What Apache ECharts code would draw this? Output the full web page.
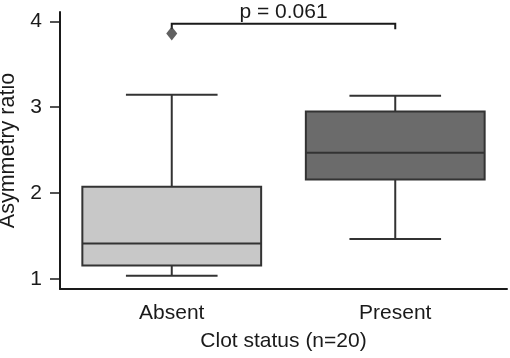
<!DOCTYPE html>
<html>
<head>
<meta charset="utf-8">
<script src="https://cdn.jsdelivr.net/npm/echarts@6/dist/echarts.min.js"></script>
<style>
  html, body { margin: 0; padding: 0; background: #fff; }
  #chart { width: 510px; height: 358px; }
</style>
</head>
<body>
<div id="chart"></div>
<script>
const categories = ['Absent', 'Present']
const whiskerLow = [1.035, 1.463]
const q1 = [1.155, 2.158]
const median = [1.41, 2.47]
const q3 = [2.073, 2.95]
const whiskerHigh = [3.145, 3.134]
const outliers = [[0, 3.86]]
const boxColors = ['#c8c8c8', '#6b6b6b']
const yTicks = [1, 2, 3, 4]
const pLabel = 'p = 0.061'
const bracket = [[0, 1, 3.91, 3.973]]

const font = 'Liberation Sans, Arial, Helvetica, sans-serif'
const ink = '#1a1a1a'

const chart = echarts.init(document.getElementById('chart'))

function renderBox(params, api) {
  const i = api.value(0)
  const band = api.size([1, 0])[0]
  const cx = api.coord([i, 0])[0]
  const yLo = api.coord([i, api.value(1)])[1]
  const yQ1 = api.coord([i, api.value(2)])[1]
  const yMed = api.coord([i, api.value(3)])[1]
  const yQ3 = api.coord([i, api.value(4)])[1]
  const yHi = api.coord([i, api.value(5)])[1]
  const bw = band * 0.8
  const cw = band * 0.41
  const line = { stroke: '#333', lineWidth: 2 }
  return {
    type: 'group',
    children: [
      { type: 'line', shape: { x1: cx, y1: yQ3, x2: cx, y2: yHi }, style: line },
      { type: 'line', shape: { x1: cx, y1: yQ1, x2: cx, y2: yLo }, style: line },
      { type: 'line', shape: { x1: cx - cw / 2, y1: yHi, x2: cx + cw / 2, y2: yHi }, style: line },
      { type: 'line', shape: { x1: cx - cw / 2, y1: yLo, x2: cx + cw / 2, y2: yLo }, style: line },
      {
        type: 'rect',
        shape: { x: cx - bw / 2, y: yQ3, width: bw, height: yQ1 - yQ3 },
        style: { fill: boxColors[i], stroke: '#333', lineWidth: 2 },
      },
      { type: 'line', shape: { x1: cx - bw / 2, y1: yMed, x2: cx + bw / 2, y2: yMed }, style: line },
    ],
  }
}

function renderBracket(params, api) {
  const a = api.coord([api.value(0), api.value(3)])
  const b = api.coord([api.value(1), api.value(3)])
  const yEnd = api.coord([api.value(0), api.value(2)])[1]
  return {
    type: 'group',
    children: [
      {
        type: 'polyline',
        shape: { points: [[a[0], yEnd], a, b, [b[0], yEnd]] },
        style: { stroke: ink, lineWidth: 2, fill: null },
      },
      {
        type: 'text',
        style: {
          text: pLabel, x: (a[0] + b[0]) / 2, y: a[1] - 1,
          align: 'center', verticalAlign: 'bottom',
          fontSize: 21, fontFamily: font, fill: ink,
        },
      },
    ],
  }
}

chart.setOption({
  backgroundColor: '#fff',
  animation: false,
  grid: { left: 60, right: 3, top: 12, bottom: 69, containLabel: false, outerBoundsMode: 'none' },
  xAxis: {
    type: 'category',
    data: categories,
    name: 'Clot status (n=20)',
    nameLocation: 'middle',
    nameGap: 42,
    nameTextStyle: { fontSize: 21, fontFamily: font, color: ink },
    axisLine: { lineStyle: { color: ink, width: 2 } },
    axisTick: { alignWithLabel: true, length: 10, lineStyle: { color: ink, width: 1.5 } },
    axisLabel: { fontSize: 21, fontFamily: font, color: ink, margin: 14 },
  },
  yAxis: {
    type: 'value',
    min: 0.88,
    max: 4.11,
    name: 'Asymmetry ratio',
    nameLocation: 'middle',
    nameGap: 40,
    nameTextStyle: { fontSize: 21.5, fontFamily: font, color: ink },
    splitLine: { show: false },
    axisLine: { show: true, lineStyle: { color: ink, width: 2 } },
    axisTick: { show: true, length: 10, customValues: yTicks, lineStyle: { color: ink, width: 1.5 } },
    axisLabel: { fontSize: 21, fontFamily: font, color: ink, margin: 18, customValues: yTicks },
  },
  series: [
    {
      type: 'custom',
      renderItem: renderBox,
      encode: { x: 0, y: [1, 2, 3, 4, 5] },
      data: categories.map((c, i) => [i, whiskerLow[i], q1[i], median[i], q3[i], whiskerHigh[i]]),
    },
    {
      type: 'scatter',
      symbol: 'diamond',
      symbolSize: [11, 14],
      itemStyle: { color: '#3a3a3a' },
      data: outliers,
    },
    {
      type: 'custom',
      renderItem: renderBracket,
      encode: { x: [0, 1], y: [2, 3] },
      data: bracket,
    },
  ],
})
</script>
</body>
</html>
